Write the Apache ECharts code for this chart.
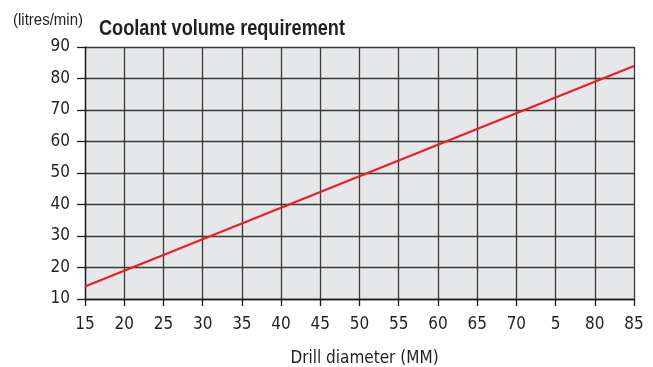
<!DOCTYPE html>
<html>
<head>
<meta charset="utf-8">
<script src="https://cdn.jsdelivr.net/npm/echarts@6/dist/echarts.min.js"></script>
<style>
  html, body { margin: 0; padding: 0; background: #ffffff; }
  #chart { width: 653px; height: 367px; }
</style>
</head>
<body>
<div id="chart"></div>
<script>
// Drill diameter (mm) and the matching coolant flow (litres/min)
var diameters = [15, 20, 25, 30, 35, 40, 45, 50, 55, 60, 65, 70, 75, 80, 85];
var coolantFlow = [14, 19, 24, 29, 34, 39, 44, 49, 54, 59, 64, 69, 74, 79, 84];

// Tick labels printed under the x axis, one per 5 mm step
var xTickLabels = ['15', '20', '25', '30', '35', '40', '45', '50', '55', '60', '65', '70', '5', '80', '85'];
var yTickLabels = ['10', '20', '30', '40', '50', '60', '70', '80', '90'];

var FONT = "'DejaVu Sans Condensed', 'Liberation Sans', sans-serif";
var HEAD_FONT = "'Liberation Sans', Arial, sans-serif";
var TEXT = '#231f20';
var GRIDLINE = '#3a3a3a';

// Width of a string in a given CSS font, used to squeeze headings into a condensed look
var measureCtx = document.createElement('canvas').getContext('2d');
function textWidth(str, font) {
  measureCtx.font = font;
  return measureCtx.measureText(str).width;
}

var titleText = 'Coolant volume requirement';
var titleFont = 'bold 22px ' + HEAD_FONT;
var titleScale = 246 / textWidth(titleText, titleFont);

var unitText = '(litres/min)';
var unitFont = '16px ' + HEAD_FONT;
var unitScale = 70 / textWidth(unitText, unitFont);

var chart = echarts.init(document.getElementById('chart'), null, { renderer: 'canvas' });

chart.setOption({
  animation: false,
  backgroundColor: '#ffffff',
  graphic: [
    {
      type: 'text',
      x: 13, y: 21,
      scaleX: unitScale,
      style: {
        text: unitText, font: unitFont, fill: TEXT,
        textVerticalAlign: 'middle'
      }
    },
    {
      type: 'text',
      x: 99, y: 29,
      scaleX: titleScale,
      style: {
        text: titleText, font: titleFont, fill: TEXT,
        textVerticalAlign: 'middle'
      }
    }
  ],
  grid: {
    left: 85, right: 19, top: 47, bottom: 68,
    outerBoundsMode: 'none',
    containLabel: false,
    show: true,
    backgroundColor: '#e6e7e9',
    borderWidth: 0
  },
  xAxis: {
    type: 'value',
    min: 15, max: 85, interval: 5,
    name: 'Drill diameter (MM)',
    nameLocation: 'middle',
    nameGap: 51,
    nameTextStyle: { fontFamily: FONT, fontSize: 17, color: TEXT, padding: [0, 0, 0, 10] },
    axisLine: { show: true, lineStyle: { color: '#1a1a1a', width: 1.3 } },
    axisTick: { show: true, length: 7, lineStyle: { color: '#1a1a1a', width: 1.3 } },
    axisLabel: {
      margin: 17,
      fontFamily: FONT, fontSize: 17, color: TEXT,
      formatter: function (v) {
        var i = diameters.indexOf(v);
        return i >= 0 ? xTickLabels[i] : '';
      }
    },
    splitLine: { show: true, lineStyle: { color: GRIDLINE, width: 1.3 } }
  },
  yAxis: {
    type: 'value',
    min: 10, max: 90, interval: 10,
    axisLine: { show: true, lineStyle: { color: '#1a1a1a', width: 1.3 } },
    axisTick: { show: true, length: 8, lineStyle: { color: '#1a1a1a', width: 1.3 } },
    axisLabel: {
      margin: 15,
      fontFamily: FONT, fontSize: 17, color: TEXT,
      formatter: function (v) {
        var i = Math.round((v - 10) / 10);
        return yTickLabels[i] !== undefined ? yTickLabels[i] : '';
      }
    },
    splitLine: { show: true, lineStyle: { color: GRIDLINE, width: 1.3 } }
  },
  series: [
    {
      type: 'line',
      data: diameters.map(function (d, i) { return [d, coolantFlow[i]]; }),
      showSymbol: false,
      symbol: 'none',
      lineStyle: { color: '#ec1c24', width: 2.2 },
      clip: false
    }
  ]
});
</script>
</body>
</html>
